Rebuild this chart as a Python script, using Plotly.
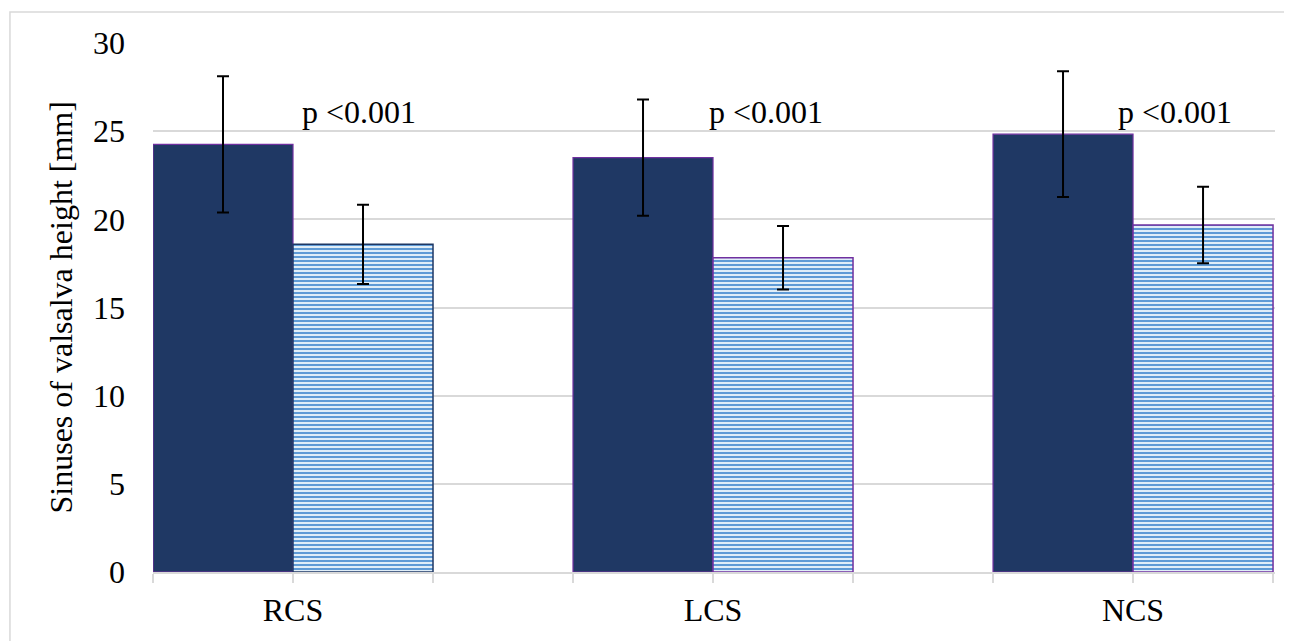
import plotly.graph_objects as go

categories = ["RCS", "LCS", "NCS"]
group_a_mean = [24.25, 23.5, 24.83]
group_a_sd = [3.86, 3.30, 3.57]
group_b_mean = [18.58, 17.82, 19.68]
group_b_sd = [2.25, 1.80, 2.17]
p_labels = ["p <0.001", "p <0.001", "p <0.001"]
y_ticks = [0, 5, 10, 15, 20, 25, 30]

FONT = "Liberation Serif, Times New Roman, serif"
NAVY = "#1F3864"
PURPLE = "#7030A0"
GRID = "#d9d9d9"

xs = list(range(len(categories)))

fig = go.Figure()
fig.add_trace(go.Bar(
    x=xs, y=group_a_mean,
    marker=dict(color=NAVY, line=dict(color=PURPLE, width=1.2)),
    error_y=dict(type="data", array=group_a_sd, visible=True,
                 color="black", thickness=2, width=6),
    showlegend=False,
))
fig.add_trace(go.Bar(
    x=xs, y=group_b_mean,
    marker=dict(color="#ffffff",
                pattern=dict(shape="-", fgcolor="#5f9bd6", bgcolor="#eef8fc",
                             size=4, solidity=0.55, fillmode="replace"),
                line=dict(color=[NAVY, PURPLE, PURPLE], width=1.5)),
    error_y=dict(type="data", array=group_b_sd, visible=True,
                 color="black", thickness=2, width=6),
    showlegend=False,
))

# tick marks at every bar boundary, labels at category centres
tickvals = []
ticktext = []
for i, c in enumerate(categories):
    for k, off in enumerate([-1/3, 0, 1/3]):
        v = i + off
        if any(abs(v - t) < 1e-6 for t in tickvals):
            continue
        tickvals.append(v)
        ticktext.append(c if k == 1 else "")

p_offsets = [0.156, 0.126, 0.10]
for i, txt in enumerate(p_labels):
    fig.add_annotation(x=xs[i] + p_offsets[i], y=26.1, text=txt, showarrow=False,
                       xanchor="center", yanchor="middle",
                       font=dict(family=FONT, size=32, color="black"))

# y axis title as rotated annotation
fig.add_annotation(x=-0.082, y=0.5, xref="paper", yref="paper",
                   text="Sinuses of valsalva height [mm]", textangle=-90,
                   showarrow=False, xanchor="center", yanchor="middle",
                   font=dict(family=FONT, size=32, color="black"))

# chart border
fig.add_shape(type="rect", xref="paper", yref="paper",
              x0=-0.1275, x1=1.2, y0=-0.3, y1=1.0586,
              line=dict(color=GRID, width=1.5), fillcolor="rgba(0,0,0,0)", layer="below")

fig.update_layout(
    width=1292, height=641,
    margin=dict(l=145, r=25, t=35, b=77),
    paper_bgcolor="white", plot_bgcolor="white",
    barmode="group", bargap=1/3, bargroupgap=0,
    font=dict(family=FONT, size=32, color="black"),
    xaxis=dict(range=[-1/3, 2.338], tickvals=tickvals, ticktext=ticktext,
               ticks="outside", ticklen=9, tickcolor=GRID, tickwidth=1.5,
               showline=True, linecolor=GRID, linewidth=1.5,
               showgrid=False, zeroline=False,
               tickfont=dict(family=FONT, size=32, color="black")),
    yaxis=dict(range=[0, 30], tickvals=y_ticks, showgrid=True, gridcolor=GRID,
               gridwidth=1.5, zeroline=False, showline=False, ticks="",
               ticklabelstandoff=27,
               tickfont=dict(family=FONT, size=32, color="black")),
)

fig.write_html("out.html")
